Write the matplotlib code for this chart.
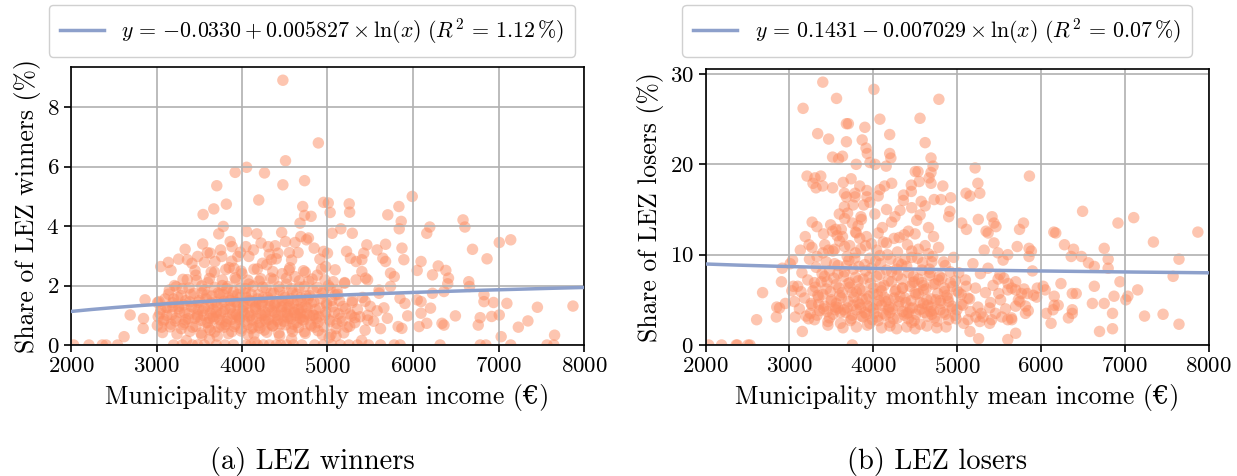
"""LEZ winners / losers share vs municipality income."""

import matplotlib
import numpy as np

matplotlib.use("Agg")
from matplotlib import pyplot as plt

# --- data --------------------------------------------------------------------
# winners: scattered points around the main cloud
win_sparse = [
    (4478, 8.91), (4893, 6.80), (4509, 6.20), (4054, 5.98), (3920, 5.81), (4263, 5.79),
    (4478, 5.39), (4732, 5.53), (3705, 5.36), (4196, 4.88), (3817, 4.74), (3670, 4.58),
    (3545, 4.39), (4710, 4.66), (4732, 4.36), (4808, 4.33), (4955, 4.80), (5009, 4.78),
    (5031, 4.46), (5254, 4.75), (5259, 4.47), (5991, 5.00), (5835, 4.66), (5705, 4.38),
    (5862, 4.16), (5839, 3.91), (6196, 3.97), (6161, 3.76), (6585, 4.21), (6607, 3.97),
    (6696, 3.22), (6866, 2.90), (7009, 3.45), (7143, 3.54), (3781, 3.99), (3728, 3.74),
    (4054, 3.82), (4174, 3.74), (4464, 3.79), (4679, 4.10), (5290, 3.76), (5156, 3.91),
    (5054, 3.76), (5679, 3.39), (5460, 3.37), (6049, 2.51), (6094, 2.81), (6228, 2.36),
    (6295, 2.66), (6384, 2.51), (6415, 2.25), (6406, 2.06), (6652, 2.13), (6661, 1.97),
    (6362, 1.80), (6228, 1.74), (6049, 1.52), (6094, 1.46), (5848, 1.57), (5906, 1.40),
    (6830, 1.69), (6830, 1.46), (6942, 1.43), (7098, 1.40), (7871, 1.31), (7455, 1.27),
    (6496, 0.98), (6786, 0.92), (6920, 0.96), (7009, 1.01), (7344, 0.81), (7232, 0.60),
    (6763, 0.67), (6362, 0.67), (6339, 0.73), (6161, 0.73), (6071, 0.62), (7031, 0.28),
    (7656, 0.33), (5938, 0.98), (6094, 1.07), (6205, 1.24), (5826, 0.62), (5870, 0.56),
    (2621, 0.28), (2692, 1.01), (2866, 1.52), (2848, 0.89), (2844, 0.56), (3013, 1.43),
    (3049, 2.64), (3138, 2.78), (3170, 2.51), (3259, 2.89), (3335, 3.22), (3362, 2.87),
    (3415, 2.75), (3482, 2.98), (3540, 3.40), (3594, 3.11), (3629, 3.09), (3683, 2.81),
    (3750, 3.20), (3763, 2.98), (3862, 3.48), (3884, 3.31), (3951, 2.98), (3906, 2.58),
    (4045, 3.31), (4080, 2.98), (4134, 3.20), (4223, 3.43), (4308, 3.31), (4388, 3.34),
    (4344, 2.87), (4420, 3.09), (4509, 3.48), (4554, 3.11), (4621, 3.45), (4656, 3.11),
    (4688, 3.65), (4754, 3.54), (4777, 3.60), (4844, 3.26), (4911, 2.89), (4955, 3.15),
    (5000, 3.09), (4978, 2.64), (5089, 2.53), (5223, 3.15), (5268, 2.92), (5335, 2.81),
    (5402, 2.87), (5424, 3.09), (5402, 2.47), (5446, 2.25), (5580, 3.20), (5647, 2.92),
    (5679, 2.81), (5737, 2.42), (5871, 3.26), (5893, 2.87), (5781, 2.30), (5737, 1.97),
    (5603, 1.85), (5603, 1.74), (5469, 2.19), (5335, 2.19), (5201, 2.08), (5067, 2.13),
    (5112, 1.85),
]
# winners: the dense cloud between 3000 and 5700
win_dense = [
    (3020, 0.95), (3050, 1.20), (3080, 0.80), (3100, 1.55), (3120, 1.00), (3150, 1.85),
    (3170, 0.70), (3190, 1.30), (3210, 2.00), (3230, 0.90), (3250, 1.60), (3270, 1.10),
    (3290, 0.55), (3300, 1.90), (3320, 1.35), (3340, 0.85), (3360, 2.20), (3380, 1.05),
    (3400, 1.70), (3420, 0.60), (3440, 1.25), (3460, 2.35), (3480, 0.95), (3500, 1.50),
    (3520, 0.40), (3540, 1.15), (3560, 1.85), (3580, 0.75), (3600, 2.10), (3610, 1.30),
    (3630, 0.50), (3650, 1.65), (3660, 0.95), (3680, 2.45), (3700, 1.10), (3710, 0.30),
    (3720, 1.75), (3740, 0.85), (3760, 1.40), (3770, 2.00), (3790, 0.60), (3800, 1.20),
    (3820, 1.90), (3830, 0.90), (3850, 2.60), (3860, 1.50), (3880, 0.45), (3890, 1.05),
    (3900, 1.80), (3920, 0.70), (3930, 2.20), (3950, 1.35), (3960, 0.95), (3980, 1.60),
    (3990, 0.55), (4000, 2.40), (4010, 1.15), (4030, 0.80), (4040, 1.90), (4060, 1.40),
    (4070, 0.35), (4080, 2.05), (4100, 1.00), (4110, 1.70), (4130, 0.60), (4140, 2.55),
    (4150, 1.25), (4170, 0.90), (4180, 1.55), (4200, 2.15), (4210, 0.75), (4230, 1.35),
    (4240, 1.95), (4260, 0.50), (4270, 1.10), (4290, 2.70), (4300, 1.60), (4310, 0.85),
    (4330, 1.30), (4340, 2.25), (4360, 0.65), (4370, 1.75), (4390, 1.00), (4400, 2.90),
    (4410, 1.45), (4430, 0.40), (4440, 1.85), (4460, 1.15), (4470, 2.40), (4490, 0.80),
    (4500, 1.60), (4520, 2.05), (4530, 0.95), (4550, 1.30), (4560, 2.60), (4580, 0.55),
    (4590, 1.75), (4610, 1.10), (4620, 2.30), (4640, 0.75), (4650, 1.50), (4670, 1.95),
    (4680, 0.90), (4700, 1.25), (4720, 2.50), (4730, 0.45), (4750, 1.65), (4760, 1.05),
    (4780, 2.15), (4800, 0.70), (4810, 1.40), (4830, 1.85), (4850, 0.60), (4860, 1.20),
    (4880, 2.35), (4900, 0.95), (4920, 1.55), (4940, 0.35), (4950, 1.80), (4970, 1.00),
    (4990, 1.35), (5010, 2.00), (5030, 0.80), (5050, 1.50), (5080, 1.10), (5100, 0.55),
    (5120, 1.70), (5150, 0.90), (5180, 1.30), (5200, 2.10), (5230, 0.60), (5260, 1.05),
    (5290, 1.50), (5320, 0.75), (5350, 1.20), (5380, 0.95), (5410, 1.60), (5440, 0.50),
    (5470, 1.00), (5500, 1.30), (5540, 0.80), (5580, 1.15), (5620, 0.55), (5660, 1.25),
    (5700, 0.90), (3550, 1.00), (3620, 0.90), (3690, 1.45), (3750, 1.05), (3810, 0.70),
    (3870, 1.25), (3940, 1.00), (4020, 1.30), (4090, 0.95), (4160, 1.20), (4220, 1.05),
    (4280, 0.80), (4350, 1.15), (4420, 1.00), (4480, 1.30), (4540, 0.90), (4600, 1.40),
    (4660, 1.20), (4710, 0.85), (3580, 1.55), (3660, 1.20), (3730, 0.60), (3840, 1.60),
    (3910, 1.45), (3970, 0.85), (4050, 1.60), (4120, 1.45), (4190, 0.65), (4250, 1.60),
    (4320, 1.50), (4380, 1.35), (4450, 0.70), (4510, 1.10), (4570, 1.55), (4630, 1.00),
    (4690, 1.60), (4740, 1.30), (4790, 1.00), (3450, 0.90), (3390, 1.45), (3330, 0.75),
    (3260, 1.30), (3200, 1.55), (3130, 1.25), (3060, 0.60), (3490, 1.20), (3530, 1.75),
    (3600, 0.75), (3700, 0.95), (3780, 1.70), (3870, 0.85), (3950, 1.70), (4030, 1.05),
    (4110, 0.55), (4200, 1.40), (4270, 1.00), (4340, 0.70), (4410, 0.85), (4470, 1.50),
    (4530, 1.25), (4600, 0.70), (4650, 1.05), (4720, 0.95), (4770, 1.55), (4840, 1.00),
    (4890, 0.75), (3350, 0.15), (3620, 0.20), (4150, 0.10), (4580, 0.20), (5020, 0.25),
    (5100, 0.30), (5400, 0.15),
]
# winners: a further layer of the densest part of the cloud
win_core = [
    (3070, 0.42), (3240, 0.37), (3390, 0.46), (3530, 0.33), (3680, 0.44), (3840, 0.38),
    (3990, 0.47), (4140, 0.36), (4290, 0.43), (4440, 0.31), (4590, 0.45), (4740, 0.39),
    (4890, 0.48), (5040, 0.35), (5190, 0.41), (3010, 0.66), (3160, 0.61), (3310, 0.69),
    (3460, 0.63), (3610, 0.58), (3760, 0.67), (3910, 0.62), (4060, 0.70), (4210, 0.57),
    (4360, 0.64), (4510, 0.68), (4660, 0.59), (4810, 0.65), (4960, 0.61), (5110, 0.72),
    (5260, 0.63), (3090, 0.86), (3220, 0.81), (3370, 0.89), (3520, 0.83), (3670, 0.88),
    (3820, 0.79), (3970, 0.91), (4120, 0.84), (4270, 0.87), (4420, 0.80), (4570, 0.90),
    (4720, 0.82), (4870, 0.88), (5020, 0.85), (5170, 0.79), (5320, 0.92), (5470, 0.84),
    (3040, 1.06), (3180, 1.02), (3330, 1.09), (3480, 1.01), (3630, 1.07), (3780, 1.12),
    (3930, 1.04), (4080, 1.08), (4230, 0.99), (4380, 1.10), (4530, 1.03), (4680, 1.07),
    (4830, 1.01), (4980, 1.11), (5130, 1.05), (5280, 0.98), (3110, 1.27), (3260, 1.22),
    (3410, 1.29), (3560, 1.24), (3710, 1.31), (3860, 1.21), (4010, 1.26), (4160, 1.30),
    (4310, 1.23), (4460, 1.28), (4610, 1.20), (4760, 1.27), (4910, 1.24), (5060, 1.29),
    (5210, 1.22), (3030, 1.46), (3190, 1.42), (3340, 1.49), (3490, 1.44), (3640, 1.41),
    (3790, 1.47), (3940, 1.43), (4090, 1.50), (4240, 1.45), (4390, 1.40), (4540, 1.48),
    (4690, 1.44), (4840, 1.46), (4990, 1.41), (5140, 1.49), (5290, 1.43), (5440, 1.47),
    (3140, 1.71), (3290, 1.66), (3440, 1.74), (3590, 1.68), (3740, 1.72), (3890, 1.65),
    (4040, 1.73), (4190, 1.69), (4340, 1.75), (4490, 1.67), (4640, 1.71), (4790, 1.66),
    (4940, 1.73), (5090, 1.68), (3230, 1.96), (3380, 1.92), (3530, 1.99), (3680, 1.94),
    (3830, 1.97), (3980, 1.91), (4130, 1.98), (4280, 1.93), (4430, 1.96), (4580, 1.90),
    (4730, 1.97), (4880, 1.94), (5030, 1.92), (3310, 2.21), (3470, 2.17), (3620, 2.24),
    (3770, 2.19), (3920, 2.26), (4070, 2.18), (4220, 2.23), (4370, 2.20), (4520, 2.25),
    (4670, 2.16), (4820, 2.22), (4970, 2.19), (3450, 2.51), (3640, 2.46), (3810, 2.54),
    (3990, 2.49), (4180, 2.56), (4360, 2.47), (4550, 2.52), (4740, 2.45), (4930, 2.55),
    (3560, 2.78), (3880, 2.82), (4240, 2.75), (4580, 2.86), (4320, 3.05), (3980, 3.12),
]
# winners: municipalities with a zero share
win_zero_income = [
    2031, 2210, 2366, 2411, 2545, 3200, 3300, 3420, 3480, 3560, 3700, 3800, 3900,
    4050, 4100, 4180, 4250, 4320, 4400, 4450, 4520, 4600, 4700, 4850, 4950, 5050,
    5150, 5250, 5350, 5480, 5620, 5780, 5850, 6317, 6786, 6853, 7143, 7567, 7647,
]

# losers: scattered points around the main cloud
lose_sparse = [
    (3399, 29.1), (4009, 28.3), (3164, 26.2), (3563, 27.3), (4784, 27.2), (4080, 25.0),
    (4559, 25.1), (3681, 24.5), (3704, 24.5), (3901, 24.1), (3338, 23.4), (3469, 22.8),
    (4197, 23.3), (3869, 22.7), (3681, 22.5), (4620, 22.4), (3915, 21.8), (3930, 21.2),
    (4197, 21.2), (3516, 20.8), (3587, 20.6), (3634, 20.9), (3798, 20.0), (3962, 20.2),
    (4023, 20.0), (4155, 19.8), (4211, 20.7), (4690, 20.7), (4714, 19.8), (4690, 19.1),
    (4502, 19.2), (4535, 19.2), (4667, 18.5), (4690, 17.9), (4831, 17.6), (5216, 19.6),
    (5249, 17.9), (5272, 16.8), (5155, 16.5), (5108, 16.8), (5864, 18.7), (3211, 18.7),
    (3305, 18.5), (3375, 18.7), (3282, 17.9), (3319, 17.4), (3399, 17.6), (3516, 17.4),
    (3643, 18.0), (3737, 18.4), (3657, 16.8), (3681, 16.4), (3784, 16.8), (3840, 17.6),
    (3925, 17.1), (3925, 16.4), (4080, 17.2), (4136, 17.6), (4221, 17.9), (4362, 16.6),
    (4455, 17.7), (4455, 17.0), (4549, 18.1), (4573, 15.9), (4728, 16.1), (4808, 16.1),
    (4925, 16.3), (4915, 14.8), (4901, 14.2), (5056, 13.5), (5113, 12.8), (5254, 13.9),
    (5418, 14.2), (5441, 13.5), (5465, 13.1), (5371, 12.4), (5347, 12.6), (5793, 13.5),
    (5746, 12.8), (6498, 14.8), (6920, 13.5), (7108, 14.1), (7873, 12.5), (6155, 12.5),
    (6178, 12.4), (7343, 11.4), (6282, 11.1), (6390, 10.6), (6484, 9.8), (6362, 9.8),
    (5718, 10.9), (5859, 10.7), (5859, 9.8), (5887, 10.4), (5606, 10.0), (5488, 10.2),
    (5441, 11.3), (5324, 10.5), (6756, 10.7), (6803, 9.5), (7648, 9.5), (6568, 9.1),
    (6638, 8.7), (6803, 8.5), (6944, 7.0), (7578, 7.6), (7155, 6.1), (7014, 5.0),
    (7038, 5.4), (6873, 5.4), (6756, 4.6), (6615, 4.6), (6638, 6.5), (6375, 5.7),
    (6422, 5.7), (6160, 5.4), (6160, 4.4), (6207, 4.4), (6146, 3.9), (6066, 3.5),
    (6122, 2.4), (6329, 3.0), (6375, 3.5), (6375, 3.9), (6700, 1.5), (6855, 1.8),
    (6855, 3.5), (7237, 3.2), (7458, 3.4), (7648, 2.3), (6240, 6.8), (6052, 6.1),
    (6028, 6.5), (5958, 6.3), (5911, 5.5), (5840, 5.7), (5817, 4.3), (5817, 3.5),
    (5700, 4.3), (5700, 1.3), (5606, 0.6), (5653, 2.8), (5606, 2.8), (5535, 3.1),
    (5498, 5.7), (5606, 6.1), (5700, 6.1), (5559, 7.4), (5512, 7.8), (5653, 6.3),
    (5732, 5.0), (5770, 5.7), (5258, 0.7), (5155, 1.5), (5131, 2.8), (5225, 3.1),
    (5286, 3.5), (5390, 4.1), (5413, 2.8), (5390, 2.4), (5272, 2.6), (2610, 2.8),
    (2681, 5.8), (2845, 3.1), (2850, 4.2), (2883, 4.1), (2906, 7.0), (2915, 8.5),
    (2953, 4.6), (3038, 9.4), (3047, 6.5), (3070, 3.1), (3155, 1.5), (3131, 10.5),
    (3235, 11.1), (3272, 13.6), (3329, 13.1), (3408, 12.3), (3493, 13.3), (3516, 12.6),
    (3554, 12.8), (3423, 11.1), (3469, 10.5), (3540, 10.6), (3634, 12.0), (3596, 14.5),
    (3657, 15.3), (3695, 14.6), (3751, 13.5), (3798, 12.4), (3854, 14.2), (3784, 16.4),
    (3887, 15.5),
]
# losers: the dense cloud between 3000 and 6000
lose_dense = [
    (3100, 6.5), (3120, 4.0), (3150, 8.0), (3180, 5.2), (3200, 3.2), (3220, 7.2),
    (3240, 9.5), (3260, 4.6), (3280, 6.0), (3300, 2.8), (3320, 8.6), (3340, 5.5),
    (3360, 3.8), (3380, 7.0), (3400, 10.2), (3420, 4.3), (3440, 6.2), (3460, 2.6),
    (3480, 8.2), (3500, 5.0), (3520, 3.4), (3540, 9.0), (3560, 6.7), (3580, 4.1),
    (3600, 11.5), (3610, 2.4), (3630, 5.8), (3650, 7.6), (3670, 3.6), (3690, 9.8),
    (3700, 4.8), (3720, 6.4), (3740, 2.9), (3760, 8.4), (3770, 5.3), (3790, 12.5),
    (3800, 3.9), (3820, 7.1), (3840, 4.5), (3850, 10.6), (3870, 6.0), (3880, 3.1),
    (3900, 8.9), (3920, 5.1), (3930, 2.2), (3950, 7.5), (3970, 4.2), (3980, 11.2),
    (4000, 6.3), (4010, 3.5), (4030, 9.3), (4050, 5.6), (4060, 2.7), (4080, 7.8),
    (4100, 4.4), (4110, 13.0), (4130, 6.6), (4150, 3.3), (4170, 10.0), (4180, 5.0),
    (4200, 2.5), (4220, 8.1), (4230, 4.0), (4250, 11.8), (4270, 6.1), (4290, 3.0),
    (4300, 9.1), (4320, 5.4), (4340, 7.3), (4350, 3.7), (4370, 12.2), (4390, 4.7),
    (4400, 8.7), (4420, 2.9), (4440, 6.5), (4460, 10.4), (4470, 4.1), (4490, 7.0),
    (4510, 3.4), (4530, 9.6), (4540, 5.7), (4560, 2.3), (4580, 8.3), (4600, 4.6),
    (4620, 11.0), (4630, 6.2), (4650, 3.2), (4670, 7.7), (4690, 5.1), (4700, 9.2),
    (4720, 3.8), (4740, 6.8), (4760, 2.6), (4780, 10.8), (4800, 4.9), (4820, 7.4),
    (4840, 3.6), (4860, 8.8), (4880, 5.5), (4900, 2.8), (4920, 6.9), (4940, 4.3),
    (4960, 9.7), (4980, 3.3), (5000, 6.0), (5020, 8.0), (5050, 4.5), (5080, 2.4),
    (5100, 7.2), (5130, 5.2), (5160, 3.7), (5190, 9.0), (5220, 6.3), (5250, 4.2),
    (5280, 7.9), (5310, 3.1), (5340, 5.8), (5370, 8.5), (5400, 4.7), (5430, 6.6),
    (5460, 3.5), (5490, 7.3), (5520, 5.0), (5550, 9.4), (5580, 4.0), (5610, 6.8),
    (5650, 3.0), (5700, 7.0), (5750, 4.8), (5800, 6.2), (5850, 3.8), (5900, 8.2),
    (5950, 5.3), (3550, 4.2), (3600, 5.5), (3650, 3.9), (3700, 6.8), (3750, 3.3),
    (3800, 5.9), (3850, 4.1), (3900, 3.6), (3950, 5.4), (4000, 4.0), (4050, 3.1),
    (4100, 6.0), (4150, 4.8), (4200, 3.6), (4250, 5.2), (4300, 4.3), (4350, 6.3),
    (4400, 3.5), (4450, 4.9), (4500, 5.8), (4550, 3.9), (4600, 6.6), (4650, 4.4),
    (4700, 3.4), (4750, 5.0), (4800, 3.9), (3580, 7.9), (3680, 8.8), (3780, 9.6),
    (3880, 7.3), (3980, 8.5), (4080, 9.9), (4180, 7.1), (4280, 8.4), (4380, 9.5),
    (4480, 7.6), (4580, 6.9), (4680, 8.0), (4780, 7.2), (3620, 12.8), (3720, 11.0),
    (3820, 13.2), (3920, 12.0), (4020, 14.5), (4120, 11.4), (4220, 13.6), (4320, 14.9),
    (4420, 12.6), (4520, 13.8), (4620, 15.4), (4720, 12.0), (3660, 14.0), (3760, 15.5),
    (3860, 13.9), (3960, 15.8), (4060, 16.5), (4160, 15.0), (4260, 14.2), (4360, 16.0),
    (4460, 15.2), (4560, 14.4), (4660, 13.0), (3500, 4.8), (3450, 3.7), (3400, 5.6),
    (3350, 4.5), (3300, 6.9), (3250, 3.5), (3420, 7.6), (3330, 9.8), (3270, 10.8),
    (3190, 12.0), (3230, 2.9), (3140, 5.9), (3060, 4.8), (3030, 6.0), (3010, 9.0),
    (4850, 5.9), (4900, 4.8), (4950, 6.5), (5000, 3.9), (5050, 5.6), (4870, 2.0),
    (4400, 2.0), (4100, 1.9), (3800, 2.0), (4500, 1.8), (4200, 2.1),
]
# losers: a further layer of the densest part of the cloud
lose_core = [
    (3330, 3.3), (3480, 3.0), (3610, 3.6), (3730, 2.7), (3860, 3.2), (3990, 2.8),
    (4120, 3.5), (4240, 2.9), (4370, 3.3), (4490, 2.7), (4610, 3.6), (4730, 3.0),
    (4860, 3.4), (4990, 2.9), (3270, 4.4), (3410, 4.0), (3560, 4.6), (3690, 4.1),
    (3820, 4.7), (3940, 4.3), (4070, 4.9), (4190, 4.2), (4310, 4.8), (4440, 4.1),
    (4560, 4.7), (4690, 4.2), (4810, 4.6), (4940, 4.0), (5070, 4.4), (3350, 5.3),
    (3490, 5.9), (3620, 5.2), (3750, 5.8), (3870, 5.1), (4000, 5.7), (4130, 5.3),
    (4260, 5.9), (4380, 5.2), (4510, 5.6), (4640, 5.0), (4770, 5.7), (4890, 5.2),
    (5020, 5.8), (5150, 5.1), (3310, 6.4), (3450, 7.0), (3590, 6.3), (3720, 6.9),
    (3840, 6.2), (3970, 6.8), (4090, 6.4), (4220, 7.0), (4350, 6.3), (4470, 6.9),
    (4600, 6.1), (4720, 6.7), (4850, 6.3), (4980, 7.1), (5110, 6.5), (3390, 7.9),
    (3530, 7.4), (3660, 8.1), (3790, 7.5), (3910, 8.2), (4040, 7.6), (4160, 8.3),
    (4290, 7.7), (4420, 8.0), (4540, 7.3), (4670, 8.4), (4790, 7.6), (4920, 8.1),
    (3440, 9.2), (3580, 8.8), (3710, 9.4), (3830, 8.7), (3960, 9.6), (4090, 9.0),
    (4210, 9.5), (4340, 8.9), (4460, 9.7), (4590, 9.1), (4710, 9.8), (4840, 9.2),
    (3520, 10.4), (3660, 10.9), (3790, 10.2), (3910, 11.0), (4040, 10.5), (4160, 11.3),
    (4290, 10.3), (4410, 11.1), (4540, 10.6), (4660, 10.1), (3570, 12.1), (3840, 11.8),
    (4060, 12.4), (4310, 11.9), (4500, 12.3), (3460, 2.2), (3960, 2.4), (4460, 2.5),
    (4640, 2.1), (3640, 1.9), (4280, 1.8), (4760, 1.9), (3550, 3.9), (3920, 3.4),
    (4180, 3.9), (4420, 3.6), (4580, 4.0), (3760, 4.4), (4040, 4.5), (4680, 3.7),
]
lose_zero_income = [2038, 2192, 2366, 2380, 2507, 2531, 3751]

# fitted log models: share = a + b * ln(income), R^2 in percent
win_fit = (-0.0330, 0.005827, 1.12)
lose_fit = (0.1431, -0.007029, 0.07)

# --- styling -----------------------------------------------------------------
plt.rcParams.update({
    "font.family": ["cmr10", "DejaVu Serif"],
    "mathtext.fontset": "cm",
    "axes.formatter.use_mathtext": True,
    "axes.unicode_minus": False,
    "font.size": 16,
})
DOT = "#fc8d62"
LINE = "#8da0cb"


def panel(fig, rect, points, zeros, fit, ylabel, legend_x, caption):
    ax = fig.add_axes(rect)
    xs = [p[0] for p in points] + list(zeros)
    ys = [p[1] for p in points] + [0.0] * len(zeros)
    ax.scatter(xs, ys, s=68, color=DOT, alpha=0.5, edgecolors="none", zorder=1)
    a, b, r2 = fit
    grid_x = np.linspace(2000, 8000, 200)
    sign = "-" if b < 0 else "+"
    # braces keep a leading minus unary (no binary-operator spacing)
    label = (rf"$y \,=\, {{{a:.4f}}} {sign} {abs(b):.6f} \times \ln(x)\ "
             rf"(R^2 \,=\, {r2:.2f}\,\%)$")
    (line,) = ax.plot(grid_x, 100 * (a + b * np.log(grid_x)), color=LINE, lw=2.5, zorder=3)
    ax.set_xlim(2000, 8000)
    ax.set_ylim(0, max(ys) * 1.05)
    ax.grid(True, color="#b0b0b0", lw=1.2)
    ax.tick_params(length=5, width=1.2, labelsize=16.5)
    for s in ax.spines.values():
        s.set_linewidth(1.2)
    ax.set_xlabel("Municipality monthly mean income (€)", fontsize=18.5, labelpad=5)
    ax.set_ylabel(ylabel, fontsize=18.5, labelpad=4)
    fig.legend([line], [label], loc="center", bbox_to_anchor=(legend_x, 0.935),
               fontsize=15.8, handlelength=2.0, framealpha=1, edgecolor="#d0d0d0",
               borderpad=0.5, fancybox=True)
    fig.text(legend_x, 0.03, caption, ha="center", va="center", fontsize=20.5)
    return ax


fig = plt.figure(figsize=(12.37, 4.76), dpi=100)
panel(fig, (71 / 1237, 1 - 345 / 476, 513 / 1237, 278 / 476),
      win_sparse + win_dense + win_core, win_zero_income, win_fit,
      "Share of LEZ winners (%)", 312 / 1237, "(a) LEZ winners")
panel(fig, (705.5 / 1237, 1 - 345 / 476, 503 / 1237, 276 / 476),
      lose_sparse + lose_dense + lose_core, lose_zero_income, lose_fit,
      "Share of LEZ losers (%)", 937 / 1237, "(b) LEZ losers")
fig.savefig("out.png", dpi=100)
